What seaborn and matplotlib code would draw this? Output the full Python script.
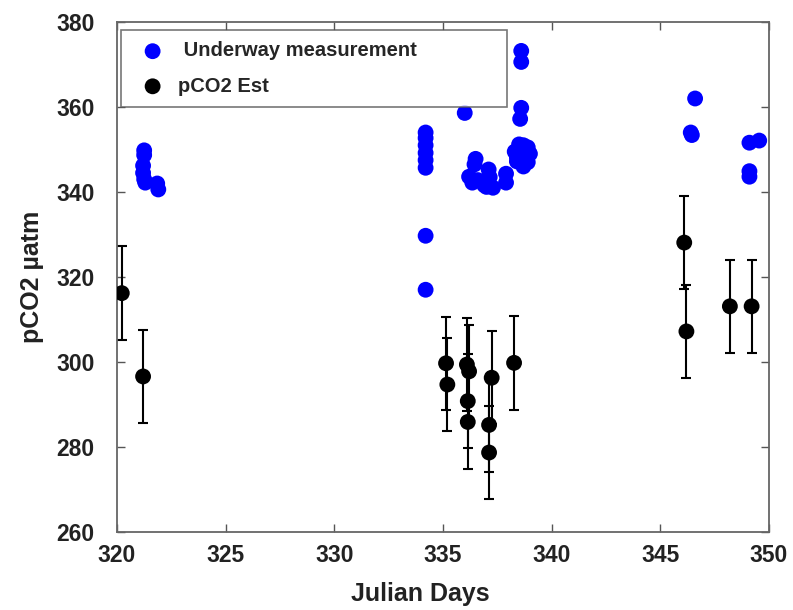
import matplotlib
matplotlib.use("Agg")
import matplotlib.pyplot as plt
import seaborn as sns
import pandas as pd

# Underway pCO2 measurements (Julian day, uatm)
uw_day = [321.25, 321.25, 321.2, 321.2, 321.25, 321.3, 321.85, 321.9,
          334.2, 334.2, 334.2, 334.2, 334.2, 334.2, 334.2, 334.2,
          336.0,
          336.5, 336.45, 336.2, 336.35, 336.6, 336.9, 337.1, 337.15, 337.3, 337.0, 337.9, 337.9,
          338.6, 338.6, 338.6, 338.55,
          338.3, 338.4, 338.5, 338.7, 338.9, 339.0, 338.9, 338.7, 338.4,
          346.6, 346.4, 346.45, 349.1, 349.55, 349.1, 349.1]
uw_pco2 = [349.8, 348.7, 346.2, 344.5, 343.0, 342.2, 342.0, 340.6,
           354.0, 352.7, 351.0, 349.2, 347.5, 345.7, 329.7, 317.0,
           358.6,
           347.8, 346.5, 343.6, 342.2, 342.8, 341.6, 345.3, 343.5, 341.0, 341.2, 344.3, 342.2,
           373.2, 370.6, 359.8, 357.2,
           349.5, 348.2, 351.2, 351.0, 350.5, 349.0, 347.0, 346.0, 347.2,
           362.0, 354.0, 353.4, 351.6, 352.1, 344.9, 343.6]

# Estimated pCO2 with uncertainty
est_day = [320.22, 321.2,
           335.14, 335.2, 336.1, 336.2, 336.14, 336.14, 337.24, 337.12, 337.12, 338.27,
           346.1, 346.2, 348.2, 349.2]
est_pco2 = [316.2, 296.6,
            299.7, 294.7, 299.4, 297.8, 290.8, 285.9, 296.3, 285.2, 278.7, 299.8,
            328.1, 307.2, 313.1, 313.1]
est_err = [11, 11,
           11, 11, 11, 11, 11, 11, 11, 11, 11, 11,
           11, 11, 11, 11]

x_ticks = [320, 325, 330, 335, 340, 345, 350]
y_ticks = [260, 280, 300, 320, 340, 360, 380]

uw = pd.DataFrame({"day": uw_day, "pco2": uw_pco2})
est = pd.DataFrame({"day": est_day, "pco2": est_pco2, "err": est_err})

sns.set_style("white")
plt.rcParams["font.family"] = ["Liberation Sans", "DejaVu Sans"]
plt.rcParams["font.weight"] = "bold"

fig = plt.figure(figsize=(7.93, 6.10), dpi=100)
ax = fig.add_axes([117 / 793, 1 - 532 / 610, 652 / 793, 510 / 610])

sns.scatterplot(data=uw, x="day", y="pco2", ax=ax, color="#0000ff", s=130,
                edgecolor="none", label=" Underway measurement", zorder=3)
ax.errorbar(est["day"], est["pco2"], yerr=est["err"], fmt="none",
            ecolor="black", elinewidth=1.5, capsize=3.5, capthick=1.5, zorder=2)
sns.scatterplot(data=est, x="day", y="pco2", ax=ax, color="black", s=130,
                edgecolor="none", label="pCO2 Est", zorder=4)

ax.set_xlim(320, 350)
ax.set_ylim(260, 380)
ax.set_xticks(x_ticks)
ax.set_yticks(y_ticks)
ax.set_xticklabels([str(t) for t in x_ticks], fontsize=16.5, fontweight="bold", color="#222222")
ax.set_yticklabels([str(t) for t in y_ticks], fontsize=16.5, fontweight="bold", color="#222222")
ax.tick_params(axis="both", direction="in", length=6, width=1, color="#555555",
               top=True, right=True, left=True, bottom=True)
ax.tick_params(axis="x", pad=9)
ax.tick_params(axis="y", pad=16)

for sp in ax.spines.values():
    sp.set_visible(True)
    sp.set_color("#666666")
    sp.set_linewidth(1.3)

ax.set_xlabel("Julian Days", fontsize=18, fontweight="bold", color="#222222")
ax.set_ylabel("pCO2 µatm", fontsize=18, fontweight="bold", color="#222222")
ax.xaxis.set_label_coords(0.465, -0.098)
ax.yaxis.set_label_coords(-0.112, 0.5)

leg_h = 0.1
leg = ax.legend(loc="upper left", bbox_to_anchor=(4 / 652, 502 / 510 - leg_h, 386 / 652, leg_h),
                mode="expand", borderaxespad=0, frameon=True, fancybox=False,
                prop={"size": 14.5, "weight": "bold"}, borderpad=0.57,
                labelspacing=0.8, handletextpad=0.25, handlelength=2.0)
leg.get_frame().set_edgecolor("#555555")
leg.get_frame().set_linewidth(1.2)

fig.savefig("out.png", dpi=100)
